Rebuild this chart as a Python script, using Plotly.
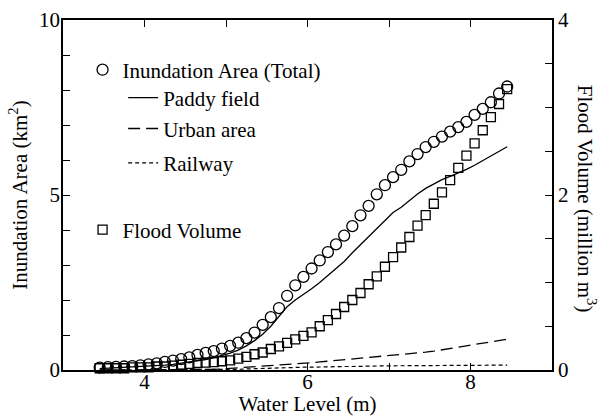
import plotly.graph_objects as go

# ---- data ----
water_level = [3.45, 3.55, 3.65, 3.75, 3.85, 3.95, 4.05, 4.15, 4.25, 4.35,
               4.45, 4.55, 4.65, 4.75, 4.85, 4.95, 5.05, 5.15, 5.25, 5.35,
               5.45, 5.55, 5.65, 5.75, 5.85, 5.95, 6.05, 6.15, 6.25, 6.35,
               6.45, 6.55, 6.65, 6.75, 6.85, 6.95, 7.05, 7.15, 7.25, 7.35,
               7.45, 7.55, 7.65, 7.75, 7.85, 7.95, 8.05, 8.15, 8.25, 8.35, 8.45]

area_total = [0.07, 0.08, 0.09, 0.10, 0.11, 0.13, 0.16, 0.19, 0.23, 0.27,
              0.31, 0.36, 0.43, 0.49, 0.54, 0.61, 0.69, 0.78, 0.91, 1.07,
              1.29, 1.51, 1.77, 2.12, 2.42, 2.66, 2.90, 3.13, 3.37, 3.59,
              3.84, 4.11, 4.42, 4.69, 5.02, 5.28, 5.51, 5.72, 5.96, 6.17,
              6.37, 6.52, 6.67, 6.81, 6.94, 7.09, 7.29, 7.46, 7.65, 7.90, 8.10]

area_paddy = [0.04, 0.05, 0.06, 0.07, 0.08, 0.09, 0.10, 0.12, 0.14, 0.16,
              0.19, 0.22, 0.26, 0.30, 0.35, 0.41, 0.48, 0.57, 0.69, 0.84,
              1.02, 1.25, 1.53, 1.81, 2.00, 2.15, 2.32, 2.50, 2.70, 2.90,
              3.10, 3.35, 3.58, 3.80, 4.02, 4.28, 4.50, 4.65, 4.85, 5.03,
              5.19, 5.32, 5.44, 5.53, 5.62, 5.73, 5.85, 5.98, 6.10, 6.24, 6.38]

area_urban = [0.0, 0.0, 0.0, 0.0, 0.0, 0.0, 0.0, 0.0, 0.0, 0.0,
              0.0, 0.005, 0.01, 0.015, 0.02, 0.03, 0.045, 0.06, 0.08, 0.10,
              0.11, 0.125, 0.14, 0.155, 0.17, 0.19, 0.21, 0.23, 0.25, 0.28,
              0.30, 0.32, 0.34, 0.36, 0.38, 0.40, 0.42, 0.44, 0.46, 0.48,
              0.51, 0.54, 0.57, 0.61, 0.65, 0.69, 0.73, 0.76, 0.79, 0.83, 0.88]

area_railway = [0.0, 0.0, 0.0, 0.0, 0.0, 0.0, 0.0, 0.0, 0.0, 0.0,
                0.0, 0.0, 0.0, 0.0, 0.0, 0.0, 0.01, 0.02, 0.03, 0.04,
                0.05, 0.05, 0.06, 0.07, 0.07, 0.08, 0.08, 0.09, 0.09, 0.10,
                0.10, 0.10, 0.11, 0.11, 0.11, 0.12, 0.12, 0.12, 0.12, 0.13,
                0.13, 0.13, 0.13, 0.13, 0.14, 0.14, 0.14, 0.14, 0.14, 0.14, 0.14]

flood_volume = [0.02, 0.02, 0.02, 0.02, 0.03, 0.03, 0.03, 0.04, 0.04, 0.05,
                0.06, 0.07, 0.08, 0.085, 0.09, 0.10, 0.11, 0.13, 0.15, 0.18,
                0.20, 0.24, 0.27, 0.31, 0.35, 0.39, 0.43, 0.50, 0.57, 0.64,
                0.72, 0.80, 0.88, 0.98, 1.07, 1.18, 1.29, 1.40, 1.52, 1.65,
                1.77, 1.90, 2.03, 2.17, 2.31, 2.45, 2.59, 2.74, 2.89, 3.04, 3.21]

FONT = "Liberation Serif"
FS = 21
BLACK = "black"

fig = go.Figure()

fig.add_trace(go.Scatter(
    x=water_level, y=area_total, mode="markers", name="Inundation Area (Total)",
    marker=dict(symbol="circle-open", size=11, color=BLACK, line=dict(width=1.3, color=BLACK)),
    cliponaxis=False, legend="legend"))

fig.add_trace(go.Scatter(
    x=water_level, y=area_paddy, mode="lines", name="Paddy field",
    line=dict(color=BLACK, width=1.3), legend="legend2"))

fig.add_trace(go.Scatter(
    x=water_level, y=area_urban, mode="lines", name="Urban area",
    line=dict(color=BLACK, width=1.3, dash="12px,6px"), legend="legend3"))

fig.add_trace(go.Scatter(
    x=water_level, y=area_railway, mode="lines", name="Railway",
    line=dict(color=BLACK, width=1.2, dash="4px,3px"), legend="legend4"))

fig.add_trace(go.Scatter(
    x=water_level, y=flood_volume, mode="markers", name="Flood Volume",
    marker=dict(symbol="square-open", size=9, color=BLACK, line=dict(width=1.3, color=BLACK)),
    cliponaxis=False, yaxis="y2", legend="legend5"))

axis_common = dict(
    showgrid=False, zeroline=False, showline=True, linecolor=BLACK, linewidth=1.5,
    ticks="inside", ticklen=7, tickwidth=1.2, tickcolor=BLACK, automargin=False,
    tickfont=dict(family=FONT, size=FS, color=BLACK),
)

leg = dict(font=dict(family=FONT, size=FS, color=BLACK), bgcolor="rgba(0,0,0,0)",
           xanchor="left", yanchor="middle", borderwidth=0)

fig.update_layout(
    width=601, height=416,
    margin=dict(l=63, r=49, t=20, b=46, autoexpand=False),
    paper_bgcolor="white", plot_bgcolor="white",
    font=dict(family=FONT, size=FS, color=BLACK),
    showlegend=True,
    xaxis=dict(
        **axis_common, range=[3, 9], tick0=0, dtick=2, mirror="allticks",
        ticklabelstandoff=-8,
        minor=dict(dtick=1, ticks="inside", ticklen=7, tickwidth=1.2, tickcolor=BLACK),
        title=dict(text="Water Level (m)", font=dict(family=FONT, size=FS, color=BLACK), standoff=2),
    ),
    yaxis=dict(
        **axis_common, range=[0, 10], tick0=0, dtick=5, ticklabelstandoff=-3,
        minor=dict(dtick=1, ticks="inside", ticklen=7, tickwidth=1.2, tickcolor=BLACK),
        title=dict(text="Inundation Area (km<sup>2</sup>)", font=dict(family=FONT, size=FS, color=BLACK), standoff=6),
    ),
    yaxis2=dict(
        **axis_common, range=[0, 4], tick0=0, dtick=2, overlaying="y", side="right",
        minor=dict(dtick=0.5, ticks="inside", ticklen=7, tickwidth=1.2, tickcolor=BLACK),
    ),
    legend=dict(**leg, x=0.040, y=0.857),
    legend2=dict(**leg, x=0.123, y=0.777),
    legend3=dict(**leg, x=0.123, y=0.689),
    legend4=dict(**leg, x=0.123, y=0.591),
    legend5=dict(**leg, x=0.040, y=0.40),
    annotations=[dict(
        text="Flood Volume (million m<sup>3</sup>)", textangle=90,
        xref="paper", yref="paper", x=1.071, y=0.49, xanchor="center", yanchor="middle",
        showarrow=False, font=dict(family=FONT, size=FS, color=BLACK))],
)

fig.write_html("out.html", config={"displayModeBar": False},
               post_script="document.body.style.margin='0';document.body.style.padding='0';")
